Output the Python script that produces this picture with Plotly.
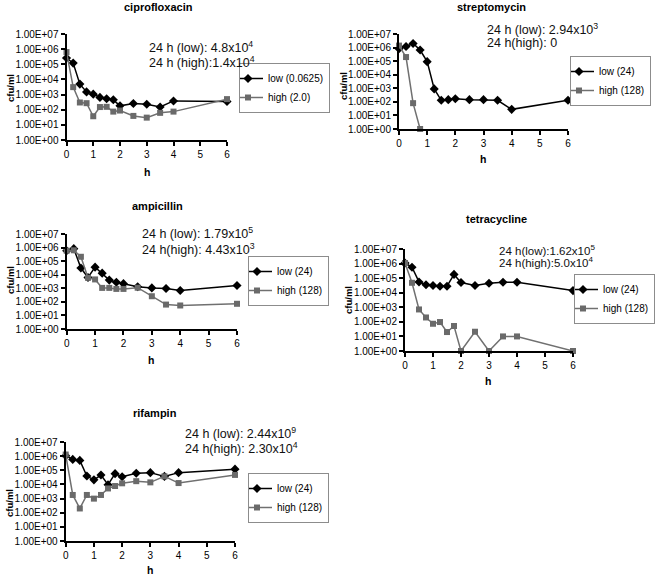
import plotly.graph_objects as go

W, H = 656, 576
FONT = "Arial, Liberation Sans, sans-serif"

# ---------------- data ----------------
hours = [0, 0.25, 0.5, 0.75, 1, 1.25, 1.5, 1.75, 2, 2.5, 3, 3.5, 4, 6]

cipro_low = [2.6e5, 1.2e5, 4.9e3, 1.5e3, 1.07e3, 650, 525, 450, 180, 255, 230, 150, 380, 350]
cipro_high = [6.4e5, 3.1e3, 300, 270, 37, 150, 155, 75, 88, 39, 30, 62, 75, 500]

strep_low = [8.3e5, 1.2e6, 2.0e6, 6.6e5, 9.2e4, 900, 130, 145, 170, 145, 145, 130, 28, 130]
strep_high_hours = [0, 0.25, 0.5, 0.75]
strep_high = [1.4e6, 2.0e5, 80, 1]

amp_low = [5.9e5, 8.3e5, 3.1e4, 6.3e3, 3.6e4, 1.3e4, 4.0e3, 2.8e3, 2.2e3, 1.3e3, 1.07e3, 970, 690, 1.6e3]
amp_high = [5.9e5, 6.3e5, 2.1e5, 5.9e3, 4.5e3, 1.07e3, 1.07e3, 900, 900, 1.1e3, 260, 63, 54, 72]

tet_low = [1.1e6, 5.6e5, 5.5e4, 3.5e4, 3.1e4, 2.8e4, 2.8e4, 1.8e5, 5.0e4, 3.1e4, 4.5e4, 5.2e4, 5.2e4, 1.4e4]
tet_high = [1.1e6, 4.8e4, 710, 200, 74, 97, 20, 52, 1, 21, 1, 10, 10, 1]

rif_low = [1.07e6, 5.9e5, 5.0e5, 3.9e4, 2.1e4, 4.6e4, 9.6e3, 5.8e4, 3.5e4, 6.1e4, 6.8e4, 3.7e4, 6.8e4, 1.2e5]
rif_high = [1.3e6, 1.8e3, 200, 1.8e3, 990, 1.8e3, 5.2e3, 7.7e3, 1.2e4, 1.7e4, 1.4e4, 3.7e4, 1.25e4, 4.7e4]

y_tick_vals = [1, 10, 100, 1e3, 1e4, 1e5, 1e6, 1e7]
y_tick_text = ["1.00E+00", "1.00E+01", "1.00E+02", "1.00E+03",
               "1.00E+04", "1.00E+05", "1.00E+06", "1.00E+07"]
x_tick_vals = [0, 1, 2, 3, 4, 5, 6]

panels = [
    dict(title="ciprofloxacin", low_name="low (0.0625)", high_name="high (2.0)",
         low=cipro_low, high=cipro_high, high_x=hours,
         note1="24 h (low): 4.8x10<sup>4</sup>", note2="24 h (high):1.4x10<sup>4</sup>"),
    dict(title="streptomycin", low_name="low (24)", high_name="high (128)",
         low=strep_low, high=strep_high, high_x=strep_high_hours,
         note1="24 h (low): 2.94x10<sup>3</sup>", note2="24 h(high): 0"),
    dict(title="ampicillin", low_name="low (24)", high_name="high (128)",
         low=amp_low, high=amp_high, high_x=hours,
         note1="24 h (low): 1.79x10<sup>5</sup>", note2="24 h(high): 4.43x10<sup>3</sup>"),
    dict(title="tetracycline", low_name="low (24)", high_name="high (128)",
         low=tet_low, high=tet_high, high_x=hours,
         note1="24 h(low):1.62x10<sup>5</sup>", note2="24 h(high):5.0x10<sup>4</sup>"),
    dict(title="rifampin", low_name="low (24)", high_name="high (128)",
         low=rif_low, high=rif_high, high_x=hours,
         note1="24 h (low): 2.44x10<sup>9</sup>", note2="24 h(high): 2.30x10<sup>4</sup>"),
]

# ---------------- layout geometry (pixels) ----------------
plot_px = [  # x0, x1, ytop, ybottom
    (66.5, 227, 34, 140),
    (399, 568, 34, 129),
    (66.7, 237, 234, 329),
    (405, 573, 249, 351),
    (65.7, 235, 442, 541),
]
title_px = [(158, 7), (491, 7), (157, 206), (496, 219), (155, 413)]
note_px = [(147, 47, 62, 12.5), (485, 29, 43, 12.5), (140, 233, 249, 12.5),
           (497, 250, 262, 11.5), (183, 433, 448, 12.5)]
ylab_px = [(10, 88), (343, 86), (10, 280), (348, 300), (9, 503)]
xlab_px = [(147, 172), (483, 159), (151, 360), (488, 381), (150, 570)]
legend_px = [(239, 88, "left"), (651, 81, "right"), (248, 281, "left"),
             (655, 299, "right"), (248, 498, "left")]

px = lambda x: x / W
py = lambda y: 1 - y / H

fig = go.Figure()
annotations = []
layout_extra = {}

for i, p in enumerate(panels):
    n = i + 1
    xa = "x" if n == 1 else f"x{n}"
    ya = "y" if n == 1 else f"y{n}"
    lg = "legend" if n == 1 else f"legend{n}"
    x0, x1, yt, yb = plot_px[i]

    fig.add_trace(go.Scatter(
        x=hours, y=p["low"], name=p["low_name"], mode="lines+markers",
        line=dict(color="#000000", width=1.5),
        marker=dict(symbol="diamond", size=7, color="#000000"),
        xaxis=xa, yaxis=ya, legend=lg, cliponaxis=False))
    fig.add_trace(go.Scatter(
        x=p["high_x"], y=p["high"], name=p["high_name"], mode="lines+markers",
        line=dict(color="#707070", width=1.5),
        marker=dict(symbol="square", size=6, color="#6a6a6a"),
        xaxis=xa, yaxis=ya, legend=lg, cliponaxis=False))

    xkey = "xaxis" if n == 1 else f"xaxis{n}"
    ykey = "yaxis" if n == 1 else f"yaxis{n}"
    layout_extra[xkey] = dict(
        domain=[px(x0), px(x1)], anchor=ya, range=[0, 6],
        tickvals=x_tick_vals, ticks="outside", ticklen=4, tickwidth=1.5,
        tickcolor="#000", showline=True, linewidth=2, linecolor="#000",
        showgrid=False, zeroline=False,
        tickfont=dict(family=FONT, size=10, color="#000"))
    layout_extra[ykey] = dict(
        domain=[py(yb), py(yt)], anchor=xa, type="log", range=[0, 7],
        tickvals=y_tick_vals, ticktext=y_tick_text, ticks="outside",
        ticklen=4, tickwidth=1.5, tickcolor="#000",
        showline=True, linewidth=2, linecolor="#000",
        showgrid=False, zeroline=False,
        tickfont=dict(family=FONT, size=10, color="#000"))

    lx, lyc, anchor = legend_px[i]
    layout_extra[lg] = dict(
        x=px(lx), y=py(lyc), xanchor=anchor, yanchor="middle",
        xref="paper", yref="paper",
        bordercolor="#8c8c8c", borderwidth=1, bgcolor="#ffffff",
        font=dict(family=FONT, size=10, color="#000"),
        tracegroupgap=0, indentation=-12)

    tx, ty = title_px[i]
    annotations.append(dict(
        text=f"<b>{p['title']}</b>", x=px(tx), y=py(ty), xref="paper", yref="paper",
        xanchor="center", yanchor="middle", showarrow=False,
        font=dict(family=FONT, size=11, color="#000")))
    nx, ny1, ny2, fs = note_px[i]
    for txt, yy in ((p["note1"], ny1), (p["note2"], ny2)):
        annotations.append(dict(
            text=txt, x=px(nx), y=py(yy), xref="paper", yref="paper",
            xanchor="left", yanchor="middle", showarrow=False,
            font=dict(family=FONT, size=fs, color="#111")))
    lxx, lyy = ylab_px[i]
    annotations.append(dict(
        text="<b>cfu/ml</b>", x=px(lxx), y=py(lyy), xref="paper", yref="paper",
        xanchor="center", yanchor="middle", showarrow=False, textangle=-90,
        font=dict(family=FONT, size=9.5, color="#000")))
    hx, hy = xlab_px[i]
    annotations.append(dict(
        text="<b>h</b>", x=px(hx), y=py(hy), xref="paper", yref="paper",
        xanchor="center", yanchor="middle", showarrow=False,
        font=dict(family=FONT, size=10.5, color="#000")))

fig.update_layout(
    width=W, height=H,
    margin=dict(l=0, r=0, t=0, b=0, autoexpand=False),
    paper_bgcolor="#ffffff", plot_bgcolor="#ffffff",
    showlegend=True,
    annotations=annotations,
    font=dict(family=FONT, color="#000"),
    **layout_extra)

# remove the browser's default 8px page margin so the figure fills the window
fig.write_html("out.html", config={"displayModeBar": False},
               post_script="document.body.style.margin='0px';")
